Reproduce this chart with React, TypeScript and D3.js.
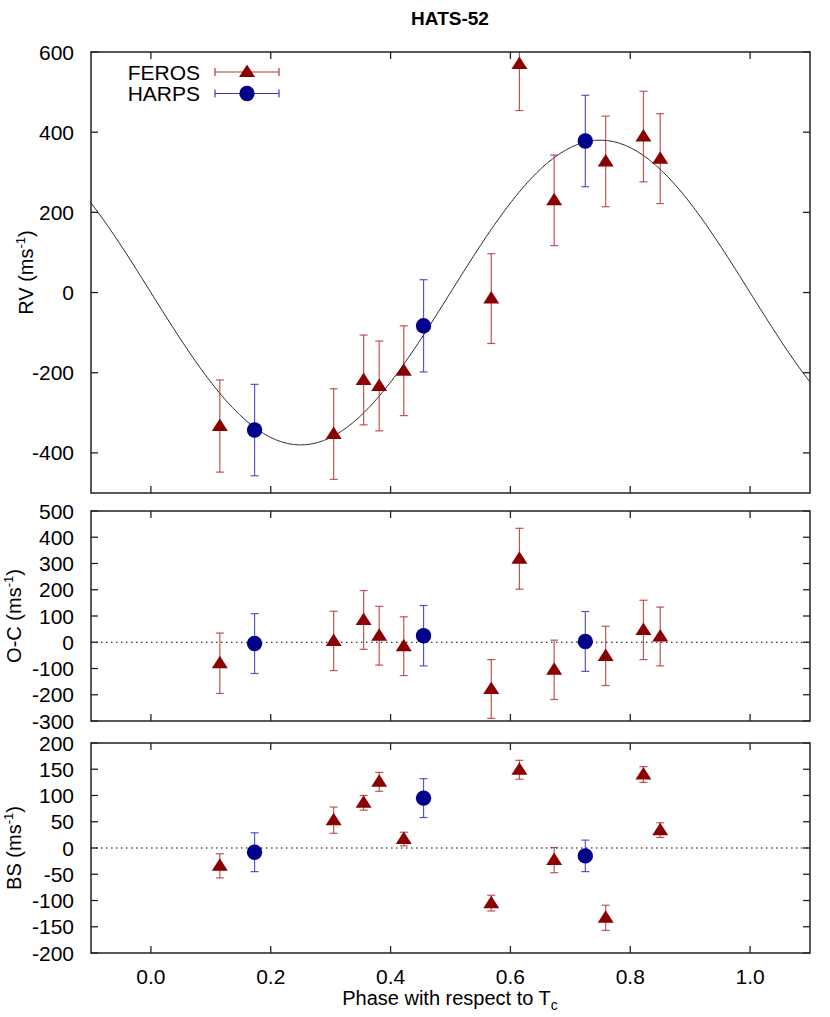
import * as d3 from 'd3'

// FEROS radial velocities, residuals and bisector spans
const ferosPhase = [0.115, 0.305, 0.355, 0.381, 0.422, 0.568, 0.615, 0.673, 0.759, 0.822, 0.850]
const ferosRV    = [-333, -353, -218, -233, -195, -15, 570, 230, 327, 389, 334]
const ferosRVErr = [115, 113, 112, 112, 112, 112, 116, 113, 113, 113, 112]
const ferosOC    = [-80, 5, 85, 25, -15, -178, 318, -105, -52, 47, 22]
const ferosBS    = [-34, 53, 86, 126, 17, -105, 149, -23, -133, 140, 34]
const ferosBSErr = [23, 25, 14, 18, 13, 15, 18, 24, 24, 15, 14]

// HARPS
const harpsPhase = [0.173, 0.455, 0.725]
const harpsRV    = [-343, -83, 378]
const harpsRVErr = [114, 115, 114]
const harpsOC    = [-5, 25, 3]
const harpsBS    = [-8, 95, -15]
const harpsBSErr = [37, 37, 30]

// circular-orbit model amplitude (m/s)
const K_MODEL = 380

const xTicks = [0, 0.2, 0.4, 0.6, 0.8, 1.0]
const rvTicks = [-400, -200, 0, 200, 400, 600]
const ocTicks = [-300, -200, -100, 0, 100, 200, 300, 400, 500]
const bsTicks = [-200, -150, -100, -50, 0, 50, 100, 150, 200]

const W = 830, H = 1017
const FONT = '"Liberation Sans", Arial, Helvetica, sans-serif'
const FEROS_C = '#8b0000', FEROS_BAR = '#b03a3a'
const HARPS_C = '#00008b', HARPS_BAR = '#3a3ac0'

const x = d3.scaleLinear().domain([-0.1, 1.1]).range([91, 810])

const panels = [
  { id: 'rv', y: d3.scaleLinear().domain([-500, 600]).range([493, 52]), ticks: rvTicks,
    label: 'RV', labelX: 33 },
  { id: 'oc', y: d3.scaleLinear().domain([-300, 500]).range([721, 511]), ticks: ocTicks,
    label: 'O-C', labelX: 21 },
  { id: 'bs', y: d3.scaleLinear().domain([-200, 200]).range([953, 743]), ticks: bsTicks,
    label: 'BS', labelX: 21 },
]

const tri = 'M0,-7.5L8,5L-8,5Z'

function ErrPoints({ ph, val, err, y, color, bar, shape }) {
  return (
    <g>
      {ph.map((p, i) => {
        const cx = x(p), y0 = y(val[i] - err[i]), y1 = y(val[i] + err[i])
        return (
          <g key={'e' + i} stroke={bar} strokeWidth={1.2} strokeOpacity={0.85}>
            <line x1={cx} x2={cx} y1={y0} y2={y1} />
            <line x1={cx - 4} x2={cx + 4} y1={y0} y2={y0} />
            <line x1={cx - 4} x2={cx + 4} y1={y1} y2={y1} />
          </g>
        )
      })}
      {ph.map((p, i) => shape === 'tri'
        ? <path key={'m' + i} d={tri} fill={color} transform={`translate(${x(p)},${y(val[i])})`} />
        : <circle key={'m' + i} cx={x(p)} cy={y(val[i])} r={7.7} fill={color} />)}
    </g>
  )
}

function Panel({ p, feros, harps, last, children }) {
  const [yb, yt] = p.y.range()
  const [xl, xr] = x.range()
  const mid = (yb + yt) / 2
  return (
    <g>
      <defs>
        <clipPath id={'clip-' + p.id}><rect x={xl} y={yt} width={xr - xl} height={yb - yt} /></clipPath>
      </defs>
      <g clipPath={`url(#clip-${p.id})`}>
        {children}
        {p.id !== 'rv' && (
          <line x1={xl} x2={xr} y1={p.y(0)} y2={p.y(0)} stroke="#000" strokeWidth={1.2} strokeDasharray="1.5,3.5" />
        )}
        <ErrPoints {...feros} y={p.y} color={FEROS_C} bar={FEROS_BAR} shape="tri" />
        <ErrPoints {...harps} y={p.y} color={HARPS_C} bar={HARPS_BAR} shape="circ" />
      </g>
      {/* ticks, mirrored on all sides */}
      <g stroke="#222" strokeWidth={1.3}>
        {p.ticks.map(t => (
          <g key={'y' + t}>
            <line x1={xl} x2={xl + 7} y1={p.y(t)} y2={p.y(t)} />
            <line x1={xr} x2={xr - 7} y1={p.y(t)} y2={p.y(t)} />
          </g>
        ))}
        {xTicks.map(t => (
          <g key={'x' + t}>
            <line x1={x(t)} x2={x(t)} y1={yb} y2={yb - 7} />
            <line x1={x(t)} x2={x(t)} y1={yt} y2={yt + 7} />
          </g>
        ))}
      </g>
      <rect x={xl} y={yt} width={xr - xl} height={yb - yt} fill="none" stroke="#222" strokeWidth={1.5} />
      <g fontFamily={FONT} fontSize={21} fill="#000" textAnchor="end">
        {p.ticks.map(t => (
          <text key={t} x={74} y={p.y(t) + 7.5}>{t}</text>
        ))}
      </g>
      {last && (
        <g fontFamily={FONT} fontSize={21} fill="#000" textAnchor="middle">
          {xTicks.map(t => (
            <text key={t} x={x(t)} y={984}>{d3.format('.1f')(t)}</text>
          ))}
        </g>
      )}
      <text transform={`translate(${p.labelX},${mid}) rotate(-90)`} textAnchor="middle"
        fontFamily={FONT} fontSize={20} fill="#000">
        {p.label} (ms<tspan fontSize={13} dy={-8}>-1</tspan><tspan dy={8}>)</tspan>
      </text>
    </g>
  )
}

export default function App() {
  const rvP = panels[0]
  const model = d3.range(-0.1, 1.1001, 0.002).map(ph => [ph, -K_MODEL * Math.sin(2 * Math.PI * ph)])
  const line = d3.line().x(d => x(d[0])).y(d => rvP.y(d[1]))

  const data = {
    rv: [{ ph: ferosPhase, val: ferosRV, err: ferosRVErr }, { ph: harpsPhase, val: harpsRV, err: harpsRVErr }],
    oc: [{ ph: ferosPhase, val: ferosOC, err: ferosRVErr }, { ph: harpsPhase, val: harpsOC, err: harpsRVErr }],
    bs: [{ ph: ferosPhase, val: ferosBS, err: ferosBSErr }, { ph: harpsPhase, val: harpsBS, err: harpsBSErr }],
  }

  return (
    <svg width={W} height={H} style={{ display: 'block', position: 'absolute', left: 0, top: 0, background: '#fff' }}>
      <rect width={W} height={H} fill="#fff" />
      <text x={450} y={25} textAnchor="middle" fontFamily={FONT} fontWeight="bold" fontSize={19}>HATS-52</text>
      {panels.map((p, i) => (
        <Panel key={p.id} p={p} feros={data[p.id][0]} harps={data[p.id][1]} last={i === panels.length - 1}>
          {p.id === 'rv' && <path d={line(model)} fill="none" stroke="#222" strokeWidth={1} />}
        </Panel>
      ))}
      {/* legend */}
      <g fontFamily={FONT} fontSize={21} textAnchor="end">
        <text x={200} y={79.5}>FEROS</text>
        <text x={200} y={101}>HARPS</text>
      </g>
      <g strokeWidth={1.2}>
        <g stroke={FEROS_BAR}>
          <line x1={215} x2={279} y1={72} y2={72} />
          <line x1={215} x2={215} y1={68} y2={76} />
          <line x1={279} x2={279} y1={68} y2={76} />
        </g>
        <path d={tri} fill={FEROS_C} transform="translate(247,72)" />
        <g stroke={HARPS_BAR}>
          <line x1={215} x2={279} y1={93.5} y2={93.5} />
          <line x1={215} x2={215} y1={89.5} y2={97.5} />
          <line x1={279} x2={279} y1={89.5} y2={97.5} />
        </g>
        <circle cx={247} cy={93.5} r={7.7} fill={HARPS_C} />
      </g>
      <text x={450} y={1005} textAnchor="middle" fontFamily={FONT} fontSize={20}>
        Phase with respect to T<tspan fontSize={14} dy={5}>c</tspan>
      </text>
    </svg>
  )
}
